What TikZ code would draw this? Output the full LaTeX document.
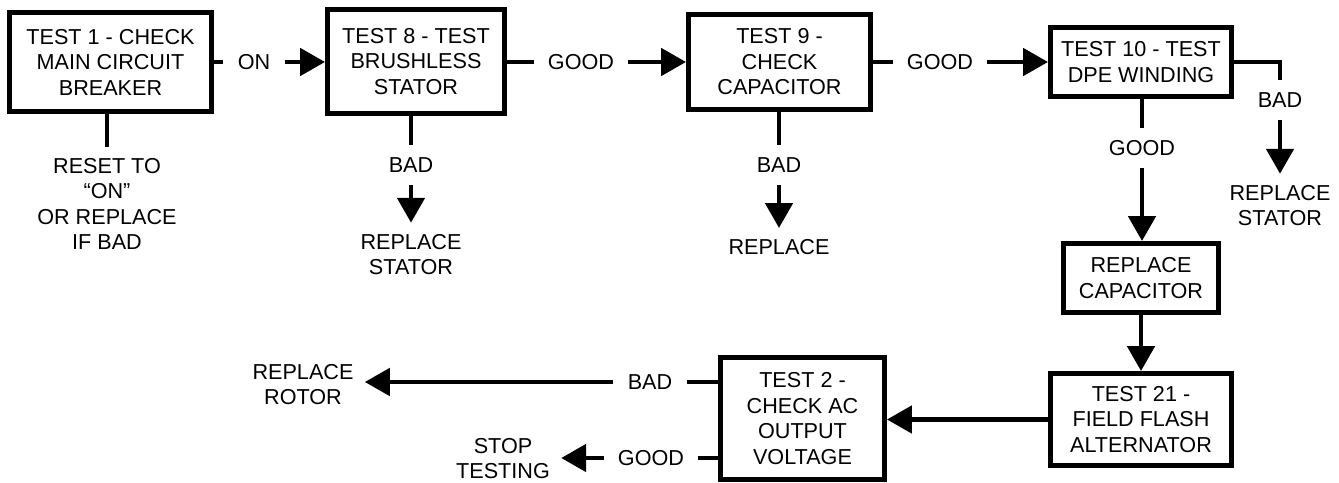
\documentclass[tikz,border=0pt]{standalone}
\usepackage{fontspec}
\setmainfont{Liberation Sans}
\usetikzlibrary{arrows.meta, positioning, calc}
\tikzset{
  testbox/.style={rectangle, draw, line width=2.8pt, align=center, inner sep=0pt, font=\fontsize{12.3}{14.5}\selectfont},
  cond/.style={inner xsep=0.28cm, inner ysep=0.24cm, text height=8.8pt, text depth=0pt, font=\fontsize{12.3}{14.5}\selectfont},
  result/.style={align=center, inner sep=0.22cm, font=\fontsize{12.3}{14.5}\selectfont},
  stub/.style={line width=2.8pt},
  arrow/.style={line width=2.8pt, -{Triangle[length=0.5cm, width=0.54cm]}},
}

\begin{document}
\begin{tikzpicture}[x=0.02cm, y=-0.02cm]
  \useasboundingbox (0,0) rectangle (1339,483);

  % Test boxes
  \node[testbox, minimum width=4.04cm, minimum height=1.98cm] (t1) at (110.5,62) {TEST 1 - CHECK\\MAIN CIRCUIT\\BREAKER};
  \node[testbox, minimum width=3.54cm, minimum height=2.08cm] (t8) at (416,61.5) {TEST 8 - TEST\\BRUSHLESS\\STATOR};
  \node[testbox, minimum width=3.64cm, minimum height=1.9cm] (t9) at (779.5,62) {TEST 9 -\\CHECK\\CAPACITOR};
  \node[testbox, minimum width=3.62cm, minimum height=1.38cm] (t10) at (1141,62) {TEST 10 - TEST\\DPE WINDING};
  \node[testbox, minimum width=3.1cm, minimum height=1.38cm] (repcap) at (1141,278) {REPLACE\\CAPACITOR};
  \node[testbox, minimum width=3.62cm, minimum height=1.84cm] (t21) at (1141,419.5) {TEST 21 -\\FIELD FLASH\\ALTERNATOR};
  \node[testbox, minimum width=3.28cm, minimum height=2.44cm] (t2) at (802.5,418.5) {TEST 2 -\\CHECK AC\\OUTPUT\\VOLTAGE};

  % Conditions
  \node[cond] (on1) at (254,62) {ON};
  \node[cond] (good8) at (581,62) {GOOD};
  \node[cond] (good9) at (940,62) {GOOD};
  \node[cond] (bad8) at (411,165) {BAD};
  \node[cond] (bad9) at (779,165) {BAD};
  \node[cond] (good10) at (1142,148) {GOOD};
  \node[cond] (bad10) at (1280,100) {BAD};
  \node[cond] (bad2) at (650,382) {BAD};
  \node[cond] (good2) at (651,458) {GOOD};

  % Results
  \node[result] (reset) at (107,204) {RESET TO\\“ON”\\OR REPLACE\\IF BAD};
  \node[result] (stator8) at (411,254.5) {REPLACE\\STATOR};
  \node[result] (replace9) at (779,247) {REPLACE};
  \node[result] (stator10) at (1280,205.5) {REPLACE\\STATOR};
  \node[result] (rotor) at (303,384.5) {REPLACE\\ROTOR};
  \node[result] (stop) at (503,458.5) {STOP\\TESTING};

  % Top row
  \draw[stub] (t1.east) -- (on1.west);
  \draw[arrow] (on1.east) -- (t8.west |- on1.east);
  \draw[stub] (t8.east |- good8.west) -- (good8.west);
  \draw[arrow] (good8.east) -- (t9.west |- good8.east);
  \draw[stub] (t9.east |- good9.west) -- (good9.west);
  \draw[arrow] (good9.east) -- (t10.west |- good9.east);

  % Branches down
  \draw[stub] (t1.south -| reset.north) -- (reset.north);
  \draw[stub] (t8.south -| bad8.north) -- (bad8.north);
  \draw[arrow] (bad8.south) -- (stator8.north);
  \draw[stub] (t9.south -| bad9.north) -- (bad9.north);
  \draw[arrow] (bad9.south) -- (replace9.north);
  \draw[stub] (t10.south -| good10.north) -- (good10.north);
  \draw[arrow] (good10.south) -- (repcap.north -| good10.south);
  \draw[stub] (t10.east) -| (bad10.north);
  \draw[arrow] (bad10.south) -- (stator10.north);
  \draw[arrow] (repcap.south) -- (t21.north);

  % Bottom row
  \draw[arrow] (t21.west) -- (t21.west -| t2.east);
  \draw[stub] (bad2.east -| t2.west) -- (bad2.east);
  \draw[arrow] (bad2.west) -- (bad2.west -| rotor.east);
  \draw[stub] (good2.east -| t2.west) -- (good2.east);
  \draw[arrow] (good2.west) -- (good2.west -| stop.east);
\end{tikzpicture}
\end{document}
